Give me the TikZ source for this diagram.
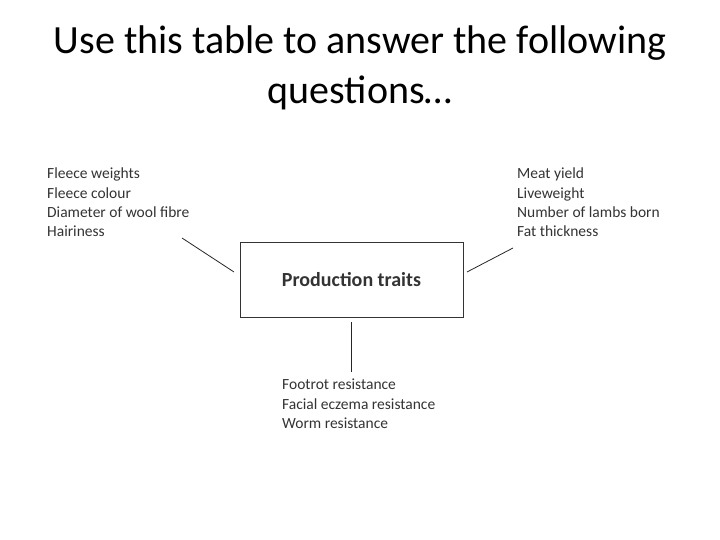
\documentclass[tikz,border=0pt]{standalone}
\usepackage{fontspec}
\setmainfont{Carlito}
\usetikzlibrary{positioning}
\tikzset{trait list/.style={anchor=north west,align=left,inner sep=0pt,font=\fontsize{15.5}{19.2}\selectfont,text=black!80},
  link/.style={draw=black!85,line width=0.8pt}}
\begin{document}
\begin{tikzpicture}[x=1pt,y=-1pt]
\useasboundingbox (0,0) rectangle (720,540);
\node[align=center,font=\fontsize{40}{50}\selectfont] (title) at (360,68) {Use this table to answer the following\\questions\ldots};
\node[draw=black!80,line width=0.8pt,minimum width=223pt,minimum height=75pt,font=\bfseries\fontsize{20}{22}\selectfont,text=black!80] (box) at (351.5,279.5) {Production traits};
\node[trait list] (wool) at (47,168) {Fleece weights\\Fleece colour\\Diameter of wool fibre\\Hairiness};
\node[trait list] (meat) at (517,168) {Meat yield\\Liveweight\\Number of lambs born\\Fat thickness};
\node[trait list] (health) at (282,379) {Footrot resistance\\Facial eczema resistance\\Worm resistance};
% connectors
\coordinate (wool end) at (182,238);
\coordinate (box w) at (234,272);
\coordinate (meat end) at (513,248);
\coordinate (box e) at (467,272);
\coordinate (box s) at (351,322);
\coordinate (health end) at (351,372);
\draw[link] (wool end) -- (box w);
\draw[link] (box e) -- (meat end);
\draw[link] (box s) -- (health end);
\end{tikzpicture}
\end{document}
